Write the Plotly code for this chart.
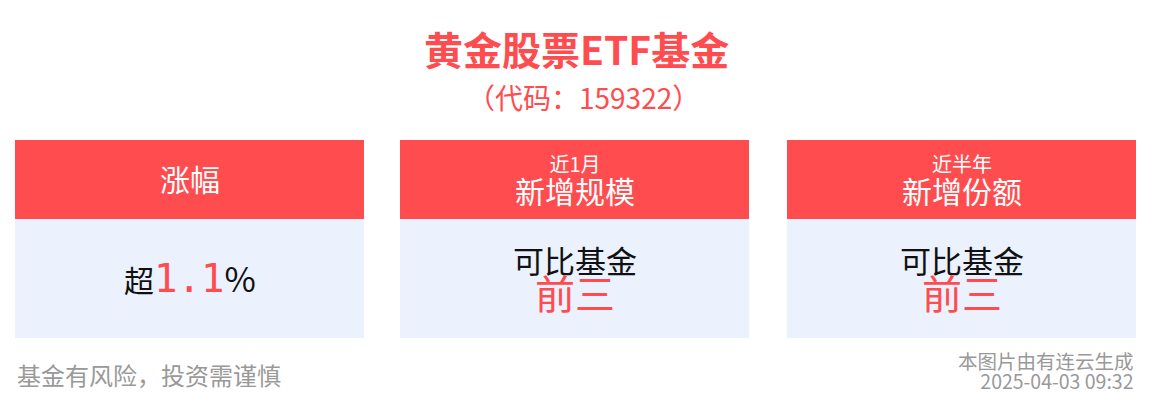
import plotly.graph_objects as go

# 标题与页脚文字
title = "黄金股票ETF基金"
subtitle = "（代码：159322）"
risk_note = "基金有风险，投资需谨慎"
source_note = "本图片由有连云生成"
time_note = "2025-04-03 09:32"

# 三个卡片的内容
head_small = ["", "近1月", "近半年"]
head_main = ["涨幅", "新增规模", "新增份额"]
body_top = ["超", "可比基金", "可比基金"]
body_value = ["1.1", "前三", "前三"]
body_suffix = ["%", "", ""]

RED = "#FF4C4F"
BLUE = "#EBF2FE"
GREY = "#999999"
FONT = "Noto Sans CJK SC"

card_left = [15, 400, 787]
card_w = 349
head_top, head_bot, body_bot = 140, 219, 338


def span(text, size, color=None, family=None):
    style = f"font-size:{size}px"
    if color:
        style += f";color:{color}"
    if family:
        style += f";font-family:{family}"
    return f"<span style='{style}'>{text}</span>"


fig = go.Figure()
shapes = []
annotations = []

for i, x0 in enumerate(card_left):
    x1 = x0 + card_w
    xc = (x0 + x1) / 2
    shapes.append(dict(type="rect", x0=x0, x1=x1, y0=head_top, y1=head_bot,
                       fillcolor=RED, line_width=0, layer="below"))
    shapes.append(dict(type="rect", x0=x0, x1=x1, y0=head_bot, y1=body_bot,
                       fillcolor=BLUE, line_width=0, layer="below"))
    # 表头
    if head_small[i]:
        txt = span(head_small[i], 20) + "<br>" + span(head_main[i], 30)
        annotations.append(dict(x=xc, y=180, text=txt,
                                font=dict(size=24, color="white", family=FONT)))
    else:
        annotations.append(dict(x=xc, y=178, text=head_main[i],
                                font=dict(size=30, color="white", family=FONT)))
    # 内容
    if body_suffix[i]:
        txt = (body_top[i]
               + span(body_value[i], 39, RED, "DejaVu Sans Mono")
               + span(body_suffix[i], 34))
        annotations.append(dict(x=xc, y=277, text=txt,
                                font=dict(size=30, color="#111111", family=FONT)))
    else:
        txt = span(body_top[i], 31) + "<br>" + span(body_value[i], 40, RED)
        annotations.append(dict(x=xc, y=279, text=txt,
                                font=dict(size=28, color="#111111", family=FONT)))

annotations.append(dict(x=576, y=48, text="<b>" + title + "</b>",
                        font=dict(size=39, color=RED, family=FONT)))
annotations.append(dict(x=583, y=97, text=subtitle,
                        font=dict(size=28, color=RED, family=FONT)))
annotations.append(dict(x=15, y=374, text=risk_note, xanchor="left",
                        font=dict(size=24, color=GREY, family=FONT)))
annotations.append(dict(x=1136, y=370, xanchor="right", align="right",
                        text=span(source_note, 19.5) + "<br>" + span(time_note, 19.5),
                        font=dict(size=15, color=GREY, family=FONT)))

for a in annotations:
    a.setdefault("xanchor", "center")
    a.update(xref="x", yref="y", yanchor="middle", showarrow=False)

# 页面自带 8px 边距，坐标轴整体平移以对齐
fig.update_layout(
    width=1150, height=404,
    margin=dict(l=0, r=0, t=0, b=0),
    paper_bgcolor="white", plot_bgcolor="white",
    xaxis=dict(range=[8, 1158], visible=False, fixedrange=True),
    yaxis=dict(range=[412, 8], visible=False, fixedrange=True),
    shapes=shapes, annotations=annotations, showlegend=False,
)

fig.write_html("out.html", config={"displayModeBar": False})
